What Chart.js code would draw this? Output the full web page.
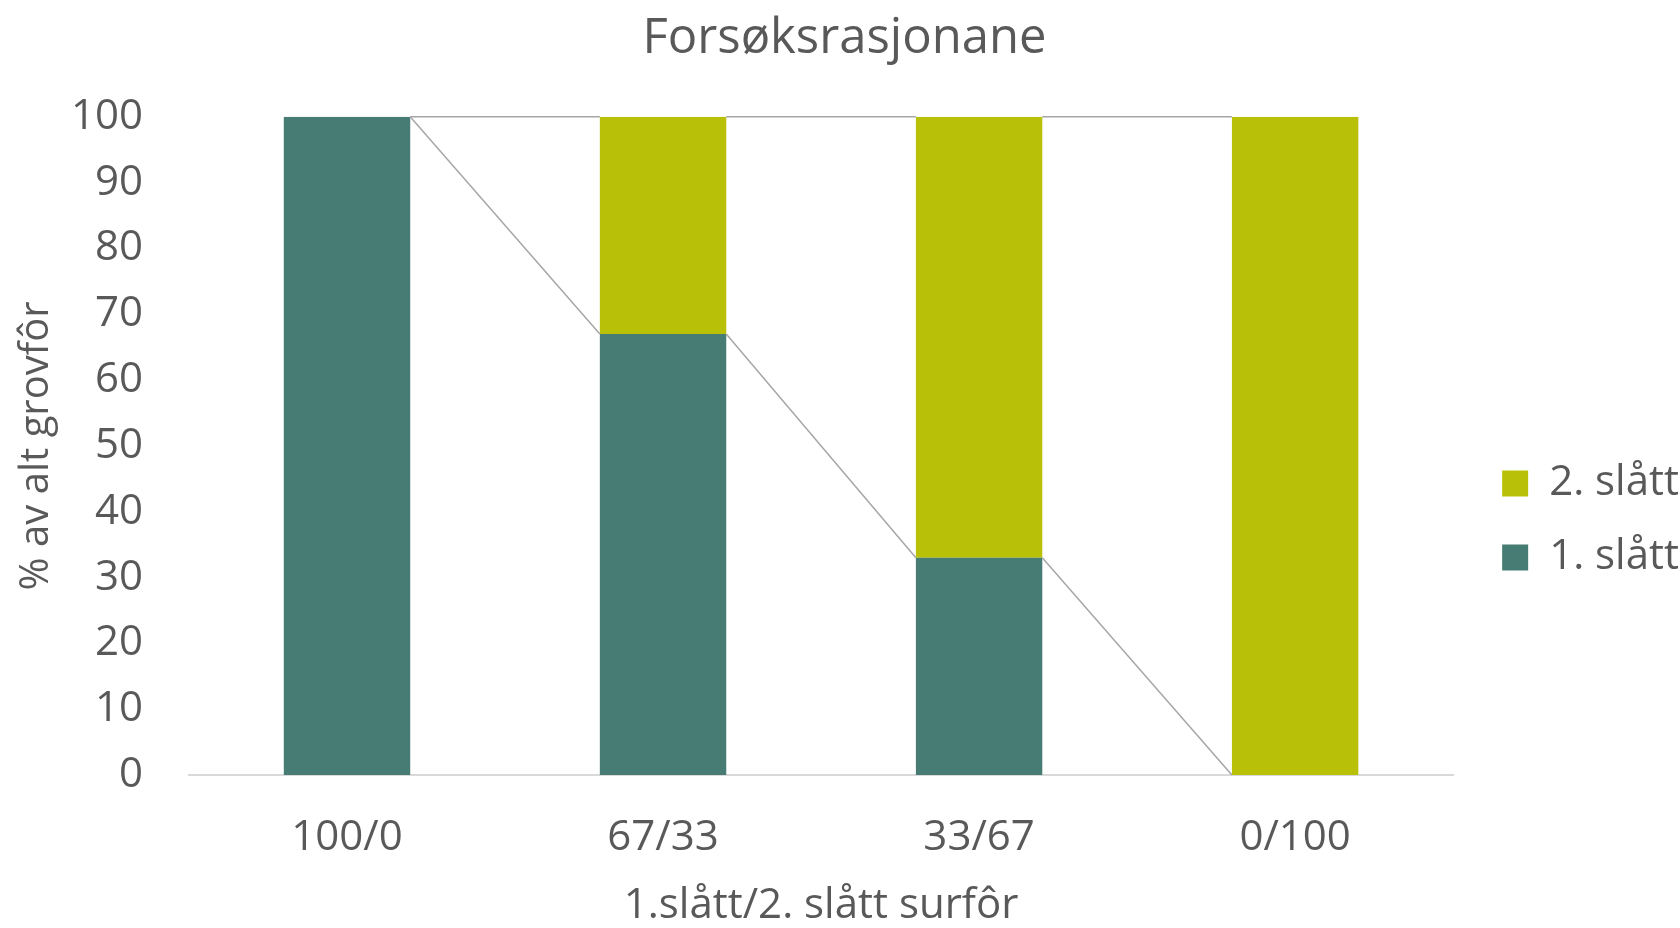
<!DOCTYPE html>
<html lang="nn">
<head>
<meta charset="utf-8">
<title>Forsøksrasjonane</title>
<script src="https://cdn.jsdelivr.net/npm/chart.js@4/dist/chart.umd.min.js"></script>
<style>
    html, body { margin: 0; padding: 0; background: #fff; }
    #chartWrap { width: 1680px; height: 928px; }
</style>
</head>
<body>
<div id="chartWrap"><canvas id="rationChart" width="1680" height="928"></canvas></div>
<script>
// Chart data
const categories = ['100/0', '67/33', '33/67', '0/100'];
const firstCut = [100, 67, 33, 0];
const secondCut = [0, 33, 67, 100];
const seriesNames = ['1. slått', '2. slått'];

((document) => {
    'use strict';

    const textColor = '#595959';
    const fontFamily = '"Open Sans", "Noto Sans", sans-serif';

    // Excel style series lines between stacked bars
    const seriesLines = {
        id: 'seriesLines',
        afterDatasetsDraw(chart) {
            const ctx = chart.ctx;
            ctx.save();
            ctx.strokeStyle = '#a6a6a6';
            ctx.lineWidth = 1.5;
            chart.data.datasets.forEach((ds, i) => {
                const bars = chart.getDatasetMeta(i).data;
                for (let j = 0; j < bars.length - 1; j++) {
                    const a = bars[j];
                    const b = bars[j + 1];
                    ctx.beginPath();
                    ctx.moveTo(a.x + a.width / 2, a.y);
                    ctx.lineTo(b.x - b.width / 2, b.y);
                    ctx.stroke();
                }
            });
            ctx.restore();
        }
    };

    const data = {
        labels: categories,
        datasets: [{
            label: seriesNames[0],
            data: firstCut,
            backgroundColor: '#467c73',
            borderWidth: 0
        }, {
            label: seriesNames[1],
            data: secondCut,
            backgroundColor: '#b8c107',
            borderWidth: 0
        }]
    };

    const config = {
        type: 'bar',
        data: data,
        options: {
            responsive: false,
            animation: false,
            devicePixelRatio: 1,
            categoryPercentage: 1,
            barPercentage: 0.4,
            layout: {
                padding: { left: 0, right: -9, top: 0, bottom: -3 }
            },
            scales: {
                x: {
                    stacked: true,
                    grid: { display: false, drawTicks: false },
                    border: { display: true, color: '#d9d9d9', width: 2 },
                    ticks: {
                        color: textColor,
                        padding: 38,
                        font: { family: fontFamily, size: 42 }
                    },
                    title: {
                        display: true,
                        text: '1.slått/2. slått surfôr',
                        color: textColor,
                        padding: { top: 0, bottom: 0 },
                        font: { family: fontFamily, size: 42 }
                    },
                    afterFit: (scale) => { scale.height = 156; }
                },
                y: {
                    stacked: true,
                    min: 0,
                    max: 100,
                    grid: { display: false, drawTicks: false },
                    border: { display: false },
                    ticks: {
                        stepSize: 10,
                        color: textColor,
                        padding: 46,
                        font: { family: fontFamily, size: 42 }
                    },
                    title: {
                        display: true,
                        text: '% av alt grovfôr',
                        color: textColor,
                        padding: { top: 13, bottom: 0 },
                        font: { family: fontFamily, size: 40 }
                    },
                    afterFit: (scale) => { scale.width = 189; }
                },
                // spacer between plot and legend
                gap: {
                    type: 'linear',
                    position: 'right',
                    display: true,
                    grid: { display: false },
                    border: { display: false },
                    ticks: { display: false },
                    afterFit: (scale) => { scale.width = 17; }
                }
            },
            plugins: {
                title: {
                    display: true,
                    text: 'Forsøksrasjonane',
                    color: textColor,
                    padding: { top: 10, bottom: 48 },
                    font: { family: fontFamily, size: 49, weight: 'normal' }
                },
                legend: {
                    position: 'right',
                    reverse: true,
                    title: {
                        display: true,
                        text: '',
                        padding: { top: 100, bottom: 0 },
                        font: { size: 10, lineHeight: 1 }
                    },
                    labels: {
                        boxWidth: 26,
                        boxHeight: 26,
                        padding: 32,
                        color: textColor,
                        font: { family: fontFamily, size: 42 }
                    }
                },
                tooltip: { enabled: false }
            }
        },
        plugins: [seriesLines]
    };

    // Draw chart
    new Chart(document.getElementById('rationChart'), config);
})(document);
</script>
</body>
</html>
